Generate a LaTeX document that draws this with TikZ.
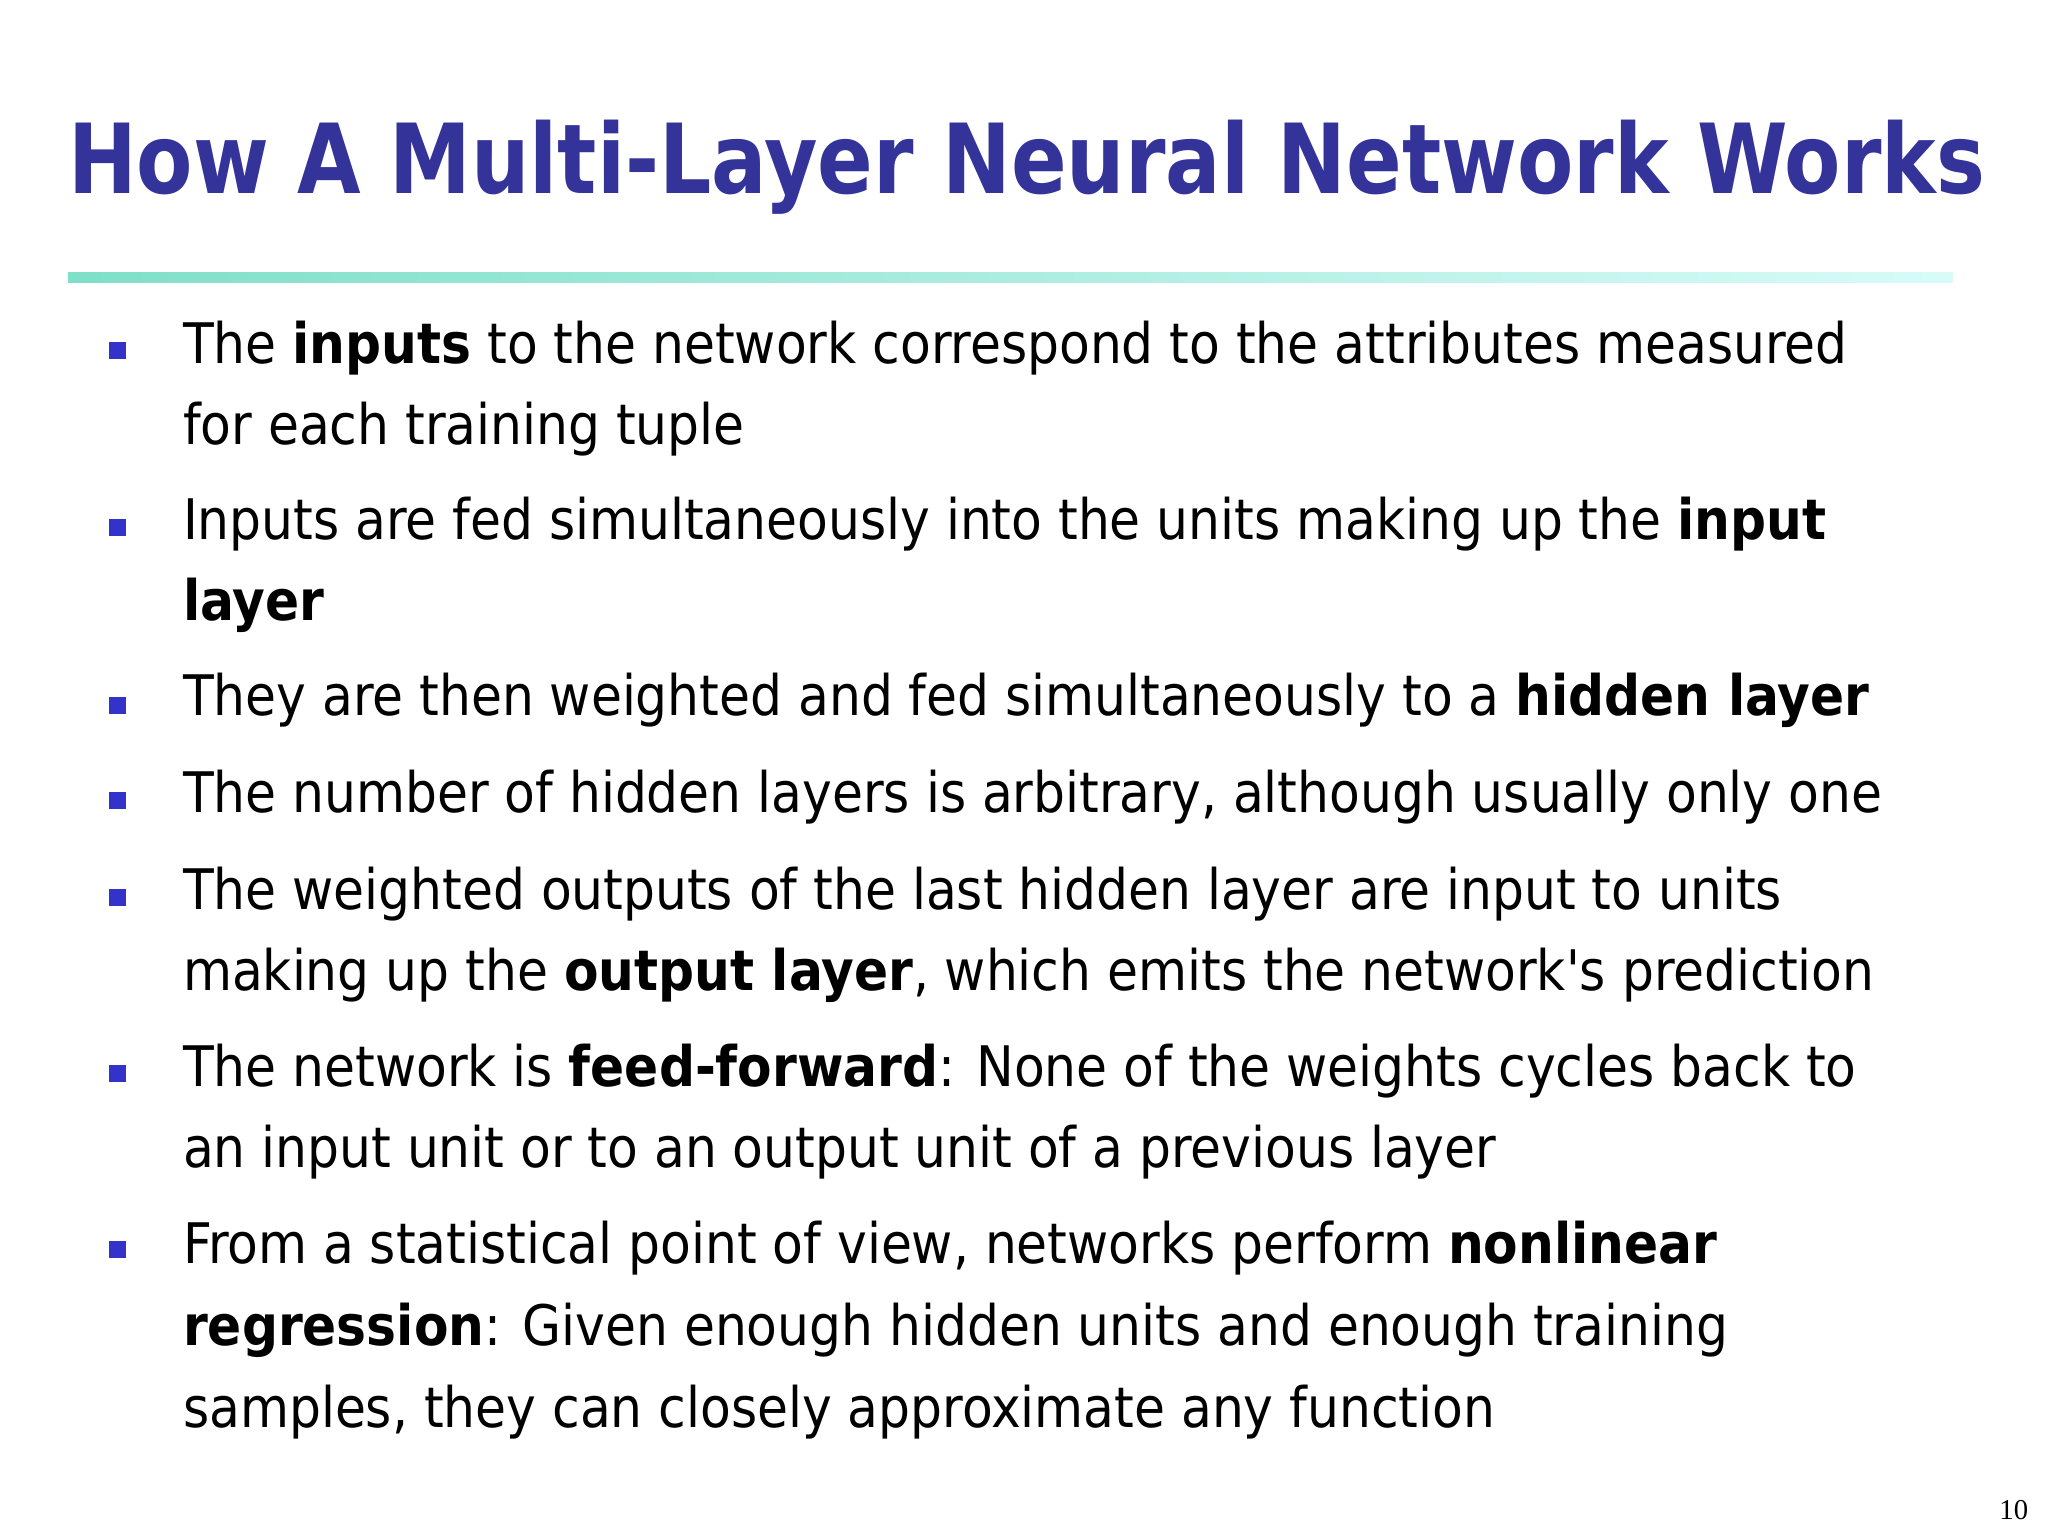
\documentclass[tikz,border=0pt]{standalone}
\usepackage{fontspec}
\setmainfont{DejaVu Sans Condensed}
\newfontfamily\numfont{Liberation Serif}
\newfontfamily\plainfont[Ligatures=NoCommon]{DejaVu Sans Condensed}
\definecolor{titleblue}{HTML}{333399}
\definecolor{bulblue}{HTML}{3333CC}
\definecolor{tealA}{HTML}{7FDFC8}
\definecolor{tealB}{HTML}{D8FBF8}
\begin{document}
\begin{tikzpicture}[x=1pt,y=-1pt,
  txt/.style={anchor=base west,inner sep=0pt,font=\fontsize{42.8}{50}\selectfont},
  bul/.style={fill=bulblue,minimum size=13pt,inner sep=0pt}]
\useasboundingbox[fill=white] (0,0) rectangle (1568,1176);
\node[anchor=base west,inner sep=0pt,text=titleblue,xscale=0.944,font=\fontsize{74}{80}\selectfont\bfseries] (title) at (52,148) {How A Multi-Layer Neural Network Works};
\shade[left color=tealA,right color=tealB] (52,209) rectangle (1495,216);
\foreach \y/\n in {268/b1,404/b2,540/b3,613/b4,687/b5,822/b6,957/b7}
  \node[bul] (\n) at (90,\y) {};
\foreach \y/\t [count=\i] in {
 278/{The \textbf{inputs} to the network correspond to the attributes measured},
 340/{for each training tuple},
 413/{Inputs are fed simultaneously into the units making up the \textbf{input}},
 475/{\textbf{layer}},
 548/{They are then weighted and fed simultaneously to a \textbf{hidden layer}},
 622/{The number of hidden layers is arbitrary, although usually only one},
 696/{The weighted outputs of the last hidden layer are input to units},
 758/{making up the \textbf{output layer}, which emits the network\textquotesingle s prediction},
 832/{The network is \textbf{feed-forward}: None of the weights cycles back to},
 894/{an input unit or to an output unit of a previous layer},
 967/{From a statistical point of view, networks perform \textbf{nonlinear}},
 1030/{\textbf{regression}: Given enough hidden units and enough training},
 1093/{samples, they can closely approximate any function}}
  \node[txt] (l\i) at (140,\y) {\t};
\node[anchor=base east,inner sep=0pt,font=\numfont\fontsize{22}{24}\selectfont] (pg) at (1553,1163) {10};
\end{tikzpicture}
\end{document}
